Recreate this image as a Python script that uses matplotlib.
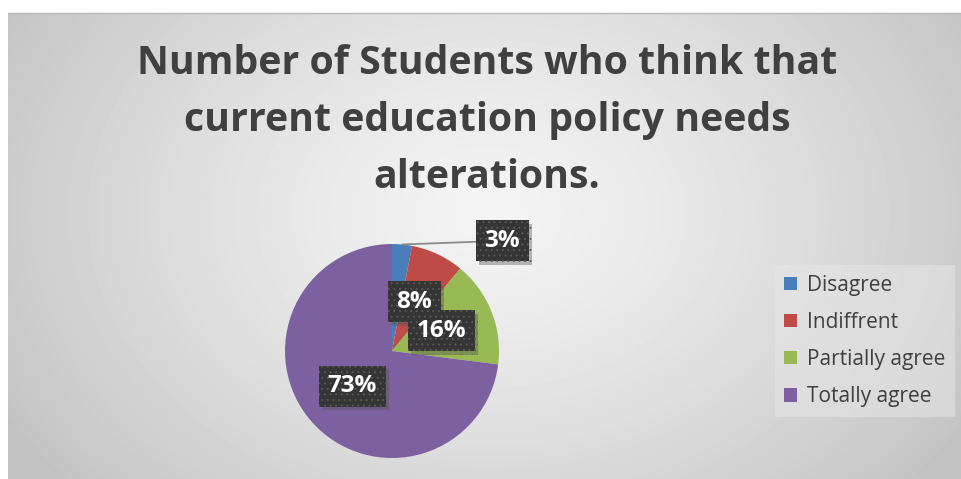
import numpy as np
import matplotlib.pyplot as plt
from matplotlib import patheffects

categories = ['Disagree', 'Indiffrent', 'Partially agree', 'Totally agree']
shares = [3, 8, 16, 73]
colors = ['#4a7ebb', '#be4b48', '#98b954', '#7d60a0']
title = 'Number of Students who think that\ncurrent education policy needs\nalterations.'

W, H = 962, 479
fig = plt.figure(figsize=(W / 100, H / 100), dpi=100)
fig.patch.set_facecolor('white')

# grey radial backdrop of the chart area
bg = fig.add_axes([8 / W, 0, 1 - 8 / W, (H - 13) / H])
bg.set_axis_off()
yy, xx = np.mgrid[0:466, 0:954]
r = np.hypot((xx - 480) / 560.0, (yy - 200) / 420.0)
shade = 0.955 - 0.19 * np.clip(r, 0, 1) ** 1.3
bg.imshow(shade, cmap='gray', vmin=0, vmax=1, aspect='auto', interpolation='bilinear')
fig.add_artist(plt.Line2D([8 / W, 1], [(H - 13) / H] * 2, color='#b8b8b8', lw=1))

fig.text(487 / W, 1 - 121 / H, title, ha='center', va='center', fontsize=28.3,
         fontweight='bold', family='Open Sans', color='#404040', linespacing=1.6)

# pie, radius 107 px, centre at (392, 351)
cx, cy, rad = 392, 351, 107
ax = fig.add_axes([(cx - rad) / W, (H - cy - rad) / H, 2 * rad / W, 2 * rad / H])
wedges, _ = ax.pie(shares, colors=colors, startangle=90, counterclock=False,
                   wedgeprops=dict(linewidth=0))
ax.set_xlim(-1, 1)
ax.set_ylim(-1, 1)
ax.set_aspect('equal')
ax.set_axis_off()

label_pos = [(1.03, 1.03), (0.21, 0.46), (0.46, 0.19), (-0.37, -0.33)]
plt.rcParams['hatch.linewidth'] = 0.6
box = dict(boxstyle='square,pad=0.35', facecolor='#353535', edgecolor='#5c5c5c',
           linewidth=0, hatch='...')
for i, (val, pos) in enumerate(zip(shares, label_pos)):
    if i == 0:
        ang = np.deg2rad(90 - 360 * val / 200)
        t = ax.annotate(f'{val}%', xy=(np.cos(ang) * 1.0, np.sin(ang) * 1.0), xytext=pos,
                        ha='center', va='center', fontsize=17.5, fontweight='bold',
                        family='Open Sans', color='white', bbox=box, zorder=5,
                        arrowprops=dict(arrowstyle='-', color='#8a8a8a', lw=1.3,
                                        shrinkA=0, shrinkB=0),
                        annotation_clip=False)
    else:
        t = ax.text(pos[0], pos[1], f'{val}%', ha='center', va='center', fontsize=17.5,
                    fontweight='bold', family='Open Sans', color='white', bbox=box,
                    zorder=5, clip_on=False)
    t.get_bbox_patch().set_path_effects([
        patheffects.SimplePatchShadow(offset=(2.5, -2.5), shadow_rgbFace='#555555', alpha=0.4),
        patheffects.Normal()])

fig.legend(wedges, categories, loc='center left',
           bbox_to_anchor=(775 / W, 1 - 341 / H), frameon=True, fancybox=False,
           facecolor='#e6e6e6', edgecolor='none', framealpha=0.55,
           prop=dict(family='Open Sans', size=15), labelcolor='#404040',
           handlelength=0.6, handleheight=0.6, handletextpad=0.5,
           labelspacing=0.78, borderpad=0.45, borderaxespad=0)

fig.savefig('out.png', dpi=100, facecolor=fig.get_facecolor())
